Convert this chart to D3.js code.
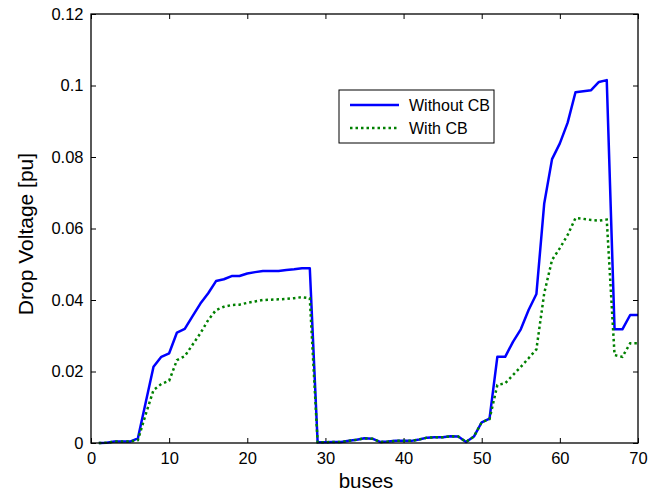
<!DOCTYPE html>
<html>
<head>
<meta charset="utf-8">
<script src="https://cdn.jsdelivr.net/npm/d3@7"></script>
<style>
  body { margin: 0; background: #fff; }
  text { font-family: "Liberation Sans", Arial, sans-serif; }
</style>
</head>
<body>
<svg id="chart" width="664" height="496"></svg>
<script>
// Bus numbers 1..70
const buses = d3.range(1, 71);

// Drop voltage without capacitor bank
const withoutCB = [
  0.0000, 0.0001, 0.0004, 0.0004, 0.0004, 0.0013, 0.0113, 0.0213, 0.0241, 0.0251,
  0.0309, 0.0319, 0.0355, 0.0390, 0.0419, 0.0453, 0.0458, 0.0467, 0.0467, 0.0474,
  0.0478, 0.0481, 0.0481, 0.0481, 0.0484, 0.0486, 0.0489, 0.0489, 0.0002, 0.0002,
  0.0003, 0.0003, 0.0006, 0.0009, 0.0013, 0.0012, 0.0003, 0.0004, 0.0006, 0.0006,
  0.0006, 0.0010, 0.0015, 0.0016, 0.0016, 0.0019, 0.0018, 0.0003, 0.0018, 0.0058,
  0.0068, 0.0241, 0.0241, 0.0283, 0.0318, 0.0372, 0.0417, 0.0670, 0.0794, 0.0838,
  0.0896, 0.0981, 0.0984, 0.0987, 0.1010, 0.1015, 0.0318, 0.0318, 0.0358, 0.0358
];

// Drop voltage with capacitor bank
const withCB = [
  0.0000, 0.0001, 0.0004, 0.0004, 0.0004, 0.0008, 0.0080, 0.0148, 0.0165, 0.0174,
  0.0232, 0.0243, 0.0275, 0.0307, 0.0344, 0.0372, 0.0381, 0.0386, 0.0387, 0.0392,
  0.0396, 0.0400, 0.0401, 0.0402, 0.0403, 0.0405, 0.0408, 0.0405, 0.0002, 0.0002,
  0.0003, 0.0003, 0.0006, 0.0009, 0.0013, 0.0012, 0.0003, 0.0004, 0.0006, 0.0006,
  0.0006, 0.0010, 0.0015, 0.0016, 0.0016, 0.0019, 0.0018, 0.0003, 0.0018, 0.0058,
  0.0067, 0.0162, 0.0167, 0.0190, 0.0213, 0.0237, 0.0262, 0.0419, 0.0512, 0.0545,
  0.0582, 0.0629, 0.0627, 0.0624, 0.0622, 0.0625, 0.0246, 0.0241, 0.0279, 0.0279
];

const xTicks = [0, 10, 20, 30, 40, 50, 60, 70];
const yTicks = [0, 0.02, 0.04, 0.06, 0.08, 0.1, 0.12];

const seriesNames = ["Without CB", "With CB"];
const seriesColors = ["#0000ff", "#008000"];

const margin = { left: 91, top: 14, right: 26, bottom: 53 };
const width = 664 - margin.left - margin.right;
const height = 496 - margin.top - margin.bottom;

const svg = d3.select("#chart");
const g = svg.append("g").attr("transform", `translate(${margin.left},${margin.top})`);

const x = d3.scaleLinear().domain([0, 70]).range([0, width]);
const y = d3.scaleLinear().domain([0, 0.12]).range([height, 0]);

// Axes with inward ticks (MATLAB style)
const tickLen = 5;
const xAxis = g.append("g").attr("transform", `translate(0,${height})`)
  .call(d3.axisBottom(x).tickValues(xTicks).tickSizeInner(-tickLen).tickSizeOuter(0).tickPadding(9).tickFormat(d3.format("d")));
const xAxisTop = g.append("g")
  .call(d3.axisTop(x).tickValues(xTicks).tickSizeInner(-tickLen).tickSizeOuter(0).tickFormat(""));
const yAxis = g.append("g")
  .call(d3.axisLeft(y).tickValues(yTicks).tickSizeInner(-tickLen).tickSizeOuter(0).tickPadding(7.5).tickFormat(d => d === 0 ? "0" : String(+d.toFixed(2))));
const yAxisRight = g.append("g").attr("transform", `translate(${width},0)`)
  .call(d3.axisRight(y).tickValues(yTicks).tickSizeInner(-tickLen).tickSizeOuter(0).tickFormat(""));

[xAxis, xAxisTop, yAxis, yAxisRight].forEach(a => {
  a.select(".domain").remove();
  a.selectAll(".tick line").attr("stroke", "#000").attr("stroke-width", 1);
  a.selectAll(".tick text").attr("fill", "#000").style("font-size", "16.5px");
});

// Lines
const line = d3.line().x((d, i) => x(buses[i])).y(d => y(d));

g.append("path").datum(withoutCB)
  .attr("d", line)
  .attr("fill", "none")
  .attr("stroke", seriesColors[0])
  .attr("stroke-width", 2.5)
  .attr("stroke-linejoin", "round");

g.append("path").datum(withCB)
  .attr("d", line)
  .attr("fill", "none")
  .attr("stroke", seriesColors[1])
  .attr("stroke-width", 2.5)
  .attr("stroke-dasharray", "2.5,3");

// Box
g.append("rect").attr("width", width).attr("height", height)
  .attr("fill", "none").attr("stroke", "#000").attr("stroke-width", 1.3);

// Axis labels
svg.append("text").attr("x", 366).attr("y", 488)
  .attr("text-anchor", "middle").style("font-size", "20.5px").text("buses");
svg.append("text")
  .attr("transform", `translate(32.5,234) rotate(-90)`)
  .attr("text-anchor", "middle").style("font-size", "21px").text("Drop Voltage [pu]");

// Legend
const legend = svg.append("g").attr("transform", "translate(339,90)");
legend.append("rect").attr("width", 155).attr("height", 53)
  .attr("fill", "#fff").attr("stroke", "#000").attr("stroke-width", 1);
seriesNames.forEach((name, i) => {
  const ly = 15 + i * 23;
  legend.append("line").attr("x1", 11).attr("x2", 60).attr("y1", ly).attr("y2", ly)
    .attr("stroke", seriesColors[i]).attr("stroke-width", 2.5)
    .attr("stroke-dasharray", i === 1 ? "2.5,3" : null);
  legend.append("text").attr("x", 70).attr("y", ly + 6)
    .style("font-size", "16px").text(name);
});
</script>
</body>
</html>
